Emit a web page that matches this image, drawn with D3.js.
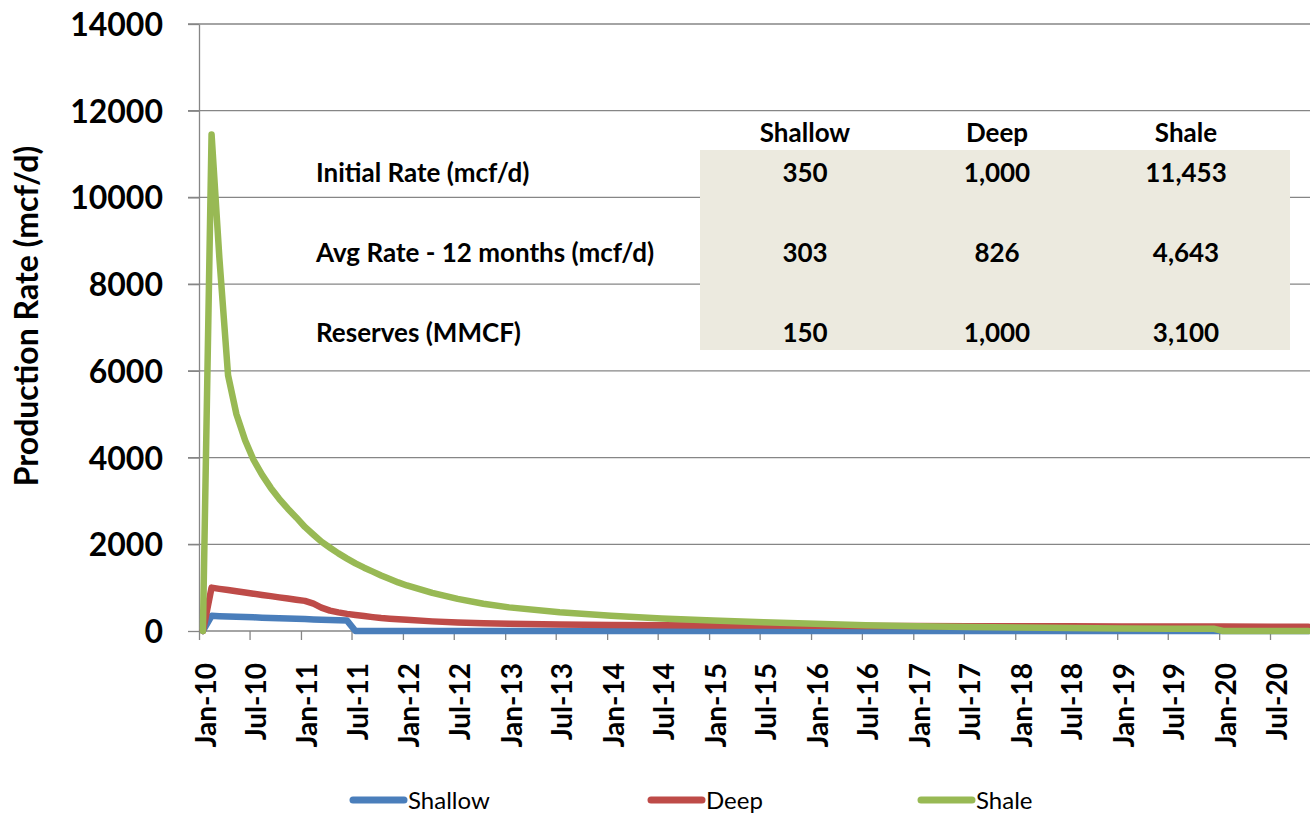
<!DOCTYPE html>
<html>
<head>
<meta charset="utf-8">
<script src="https://cdn.jsdelivr.net/npm/d3@7"></script>
<style>
  body { margin: 0; background: #fff; }
  svg { display: block; font-family: Lato, "Open Sans", sans-serif; }
  .grid line { stroke: #868686; stroke-width: 1.3; }
  .axis path, .axis line { stroke: #868686; stroke-width: 1.3; }
  .axis text { fill: #000; font-weight: bold; font-family: Lato, "Open Sans", sans-serif; }
</style>
</head>
<body>
<div id="chart"></div>
<script>
// monthly samples (points sit mid-month, like the excel sheet)
var months = ["2010-01","2010-02","2010-03","2010-04","2010-05","2010-06","2010-07","2010-08","2010-09","2010-10","2010-11","2010-12",
    "2011-01","2011-02","2011-03","2011-04","2011-05","2011-06","2011-07","2011-08","2011-09","2011-10","2011-11","2011-12",
    "2012-01","2012-04","2012-07","2012-10","2013-01","2013-07","2014-01","2014-07","2015-01","2015-07","2016-01","2016-07",
    "2017-01","2017-07","2018-01","2018-07","2019-01","2019-07","2019-12","2020-01","2020-07","2020-11"];

var shallow = [0,350,343,336,329,322,315,308,301,294,288,281,
    274,267,260,253,246,240,0,0,0,0,0,0,
    0,0,0,0,0,0,0,0,0,0,0,0,
    0,0,0,0,0,0,0,0,0,0];
var deep = [0,1000,972,944,916,888,860,832,804,776,748,720,
    695,630,540,470,430,395,370,345,320,300,285,270,
    258,222,198,180,167,150,138,133,128,124,120,117,
    114,111,109,107,105,103,102,101,100,99];
var shale = [0,11453,8600,5900,5000,4400,3950,3600,3300,3050,2820,2620,
    2400,2220,2060,1920,1790,1670,1560,1460,1370,1280,1200,1120,
    1050,880,740,630,545,430,350,290,240,200,165,135,
    110,92,78,67,59,53,50,0,0,0];

var seriesNames = ["Shallow", "Deep", "Shale"];
var seriesColors = ["#4a7ebb", "#be4b48", "#98b954"];

var yTicks = [0, 2000, 4000, 6000, 8000, 10000, 12000, 14000];

var tableCols = ["Shallow", "Deep", "Shale"];
var tableRows = ["Initial Rate (mcf/d)", "Avg Rate - 12 months (mcf/d)", "Reserves (MMCF)"];
var tableValues = [["350", "1,000", "11,453"], ["303", "826", "4,643"], ["150", "1,000", "3,100"]];

var width = 1310, height = 817;
var plot = { left: 199, top: 24, bottom: 631, right: 1310 };

var parseMonth = d3.timeParse("%Y-%m");
var dates = months.map(function(m) { return d3.timeDay.offset(parseMonth(m), 14); });

var x = d3.scaleTime()
    .domain([new Date(2010, 0, 1), new Date(2020, 6, 1)])
    .range([plot.left, 1270]);
var y = d3.scaleLinear().domain([0, 14000]).range([plot.bottom, plot.top]);

var svg = d3.select("#chart").append("svg")
    .attr("width", width)
    .attr("height", height);

// gridlines
svg.append("g")
    .attr("class", "grid")
    .selectAll("line")
    .data(yTicks.slice(1))
    .enter().append("line")
    .attr("x1", plot.left - 11)
    .attr("x2", plot.right)
    .attr("y1", function(d) { return y(d); })
    .attr("y2", function(d) { return y(d); });

// y axis
var yAxis = svg.append("g")
    .attr("class", "axis")
    .attr("transform", "translate(" + plot.left + ",0)")
    .call(d3.axisLeft(y).tickValues(yTicks).tickSize(11).tickSizeOuter(0).tickFormat(d3.format("d")));
yAxis.selectAll("text")
    .attr("x", -36)
    .attr("dy", "0.36em")
    .style("font-size", "32px");

// x axis
var xTicks = d3.timeMonth.every(6).range(new Date(2010, 0, 1), new Date(2020, 7, 1));
var xAxis = svg.append("g")
    .attr("class", "axis")
    .attr("transform", "translate(0," + plot.bottom + ")")
    .call(d3.axisBottom(x).tickValues(xTicks).tickSize(9).tickSizeOuter(0).tickFormat(d3.timeFormat("%b-%y")));
xAxis.select(".domain").attr("d", "M" + plot.left + ",0H" + plot.right);
xAxis.selectAll("text")
    .attr("transform", "rotate(-90)")
    .attr("x", -32)
    .attr("y", 16)
    .attr("dy", 0)
    .attr("text-anchor", "end")
    .style("font-size", "28px");

// y title
svg.append("text")
    .attr("transform", "translate(38,316) rotate(-90)")
    .attr("text-anchor", "middle")
    .style("font-size", "32px")
    .style("font-weight", "bold")
    .text("Production Rate (mcf/d)");

// lines
var line = d3.line()
    .x(function(d) { return x(d[0]); })
    .y(function(d) { return y(d[1]); });

[shallow, deep, shale].forEach(function(vals, i) {
    svg.append("path")
        .datum(vals.map(function(v, j) { return [dates[j], v]; }))
        .attr("fill", "none")
        .attr("stroke", seriesColors[i])
        .attr("stroke-width", 6.5)
        .attr("stroke-linejoin", "round")
        .attr("stroke-linecap", "round")
        .attr("d", line);
});

// table box
var colX = [805, 997, 1186];
var rowY = [173, 253, 333];
svg.append("rect")
    .attr("x", 700).attr("y", 150)
    .attr("width", 590).attr("height", 200)
    .attr("fill", "#eceadf");

var tbl = svg.append("g")
    .style("font-size", "26px")
    .style("font-weight", "bold");
tbl.selectAll(".colhead")
    .data(tableCols)
    .enter().append("text")
    .attr("x", function(d, i) { return colX[i]; })
    .attr("y", 133)
    .attr("dy", "0.36em")
    .attr("text-anchor", "middle")
    .text(function(d) { return d; });
tbl.selectAll(".rowhead")
    .data(tableRows)
    .enter().append("text")
    .attr("x", 316)
    .attr("y", function(d, i) { return rowY[i]; })
    .attr("dy", "0.36em")
    .text(function(d) { return d; });
tableValues.forEach(function(row, r) {
    tbl.selectAll(".v" + r)
        .data(row)
        .enter().append("text")
        .attr("x", function(d, i) { return colX[i]; })
        .attr("y", rowY[r])
        .attr("dy", "0.36em")
        .attr("text-anchor", "middle")
        .text(function(d) { return d; });
});

// legend
var legX = [350, 648, 918];
var leg = svg.append("g").attr("transform", "translate(0,800)");
seriesNames.forEach(function(name, i) {
    leg.append("line")
        .attr("x1", legX[i] + 3).attr("x2", legX[i] + 54)
        .attr("stroke", seriesColors[i])
        .attr("stroke-width", 7)
        .attr("stroke-linecap", "round");
    leg.append("text")
        .attr("x", legX[i] + 58)
        .attr("dy", "0.36em")
        .style("font-size", "24px")
        .text(name);
});
</script>
</body>
</html>
